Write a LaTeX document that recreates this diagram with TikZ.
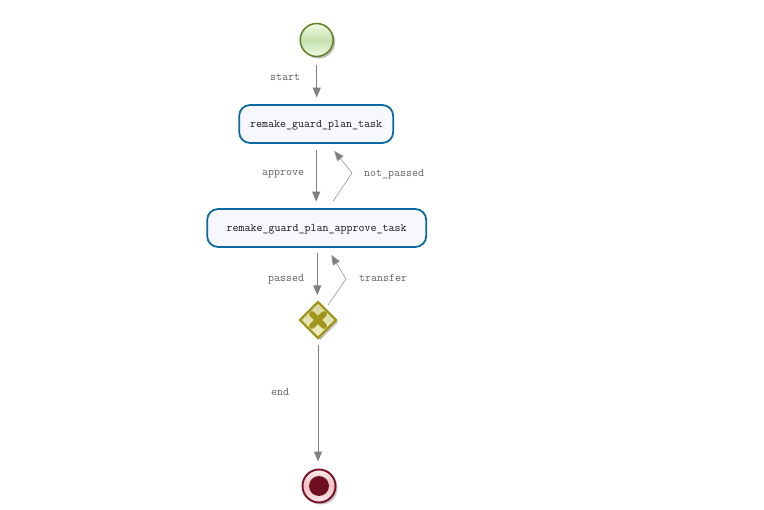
\documentclass[tikz,border=0pt]{standalone}
\usepackage{fontspec}
\usetikzlibrary{shapes.geometric,shadows,arrows.meta,calc}
\definecolor{taskblue}{HTML}{0B6A9E}
\definecolor{taskfill}{HTML}{F6F8FE}
\definecolor{startline}{HTML}{5F7F22}
\definecolor{startmid}{HTML}{C4E0AE}
\definecolor{startedge}{HTML}{EEFBE4}
\definecolor{gateline}{HTML}{A0961C}
\definecolor{gatetop}{HTML}{D6D6A0}
\definecolor{gatebot}{HTML}{F0F0C4}
\definecolor{endline}{HTML}{771226}
\definecolor{enddark}{HTML}{6E1020}
\definecolor{endmid}{HTML}{F2BFC4}
\definecolor{endedge}{HTML}{FBE9EA}
\definecolor{flowgray}{HTML}{808080}
\tikzset{
  softshadow/.style={drop shadow={shadow xshift=2pt,shadow yshift=-2pt,fill=black,opacity=.25}},
  startev/.style={circle,draw=startline,line width=1.5pt,minimum size=33pt,inner sep=0pt,
    top color=startedge,bottom color=startedge,middle color=startmid,softshadow},
  endev/.style={circle,draw=endline,line width=1.9pt,minimum size=33pt,inner sep=0pt,
    top color=endedge,bottom color=endedge,middle color=endmid,softshadow},
  enddot/.style={circle,fill=enddark,minimum size=20pt,inner sep=0pt},
  taskbox/.style={rectangle,rounded corners=11pt,draw=taskblue,line width=1.8pt,fill=taskfill,
    minimum height=38pt,font=\ttfamily\fontsize{11.65pt}{13pt}\selectfont,text=black!90,
    text height=8pt,text depth=1pt},
  gate/.style={diamond,aspect=1,draw=gateline,line width=2.4pt,minimum size=37pt,inner sep=0pt,
    top color=gatetop,bottom color=gatebot,softshadow},
  crossmark/.style={line width=5.8pt,draw=gateline,line cap=round},
  flow/.style={draw=flowgray,line width=1pt,-{Triangle[length=10pt,width=8pt,fill=flowgray]}},
  backflow/.style={draw=flowgray!85,line width=.6pt,-{Triangle[length=10pt,width=8pt,fill=flowgray]}},
  flowlabel/.style={font=\ttfamily\fontsize{11.65pt}{13pt}\selectfont,text=black!62,inner sep=0pt,
    text height=8pt,text depth=1pt},
}
\begin{document}
\begin{tikzpicture}[x=1pt,y=-1pt]
\useasboundingbox (0,0) rectangle (764,510);
\node[startev] (start) at (316.7,40) {};
\node[taskbox,minimum width=154pt] (t1) at (316.2,124) {remake\_guard\_plan\_task};
\node[taskbox,minimum width=219pt] (t2) at (316.7,228) {remake\_guard\_plan\_approve\_task};
\node[gate] (gw) at (318,320) {};
\draw[crossmark] ($(gw.center)+(-6,-6)$) -- ($(gw.center)+(6,6)$);
\draw[crossmark] ($(gw.center)+(-6,6)$) -- ($(gw.center)+(6,-6)$);
\node[endev] (stop) at (319,486) {};
\node[enddot] (stopdot) at (stop.center) {};

\coordinate (loopa) at (352,173);
\coordinate (loopb) at (346,279);
\coordinate (passfrom) at (317.3,247);

\draw[flow,shorten <=7.5pt,shorten >=6.5pt] (start.south) -- (start.south |- t1.north);
\draw[flow,shorten <=6.5pt,shorten >=6.5pt] (t1.south) -- (t1.south |- t2.north);
\draw[flow,shorten <=6.5pt,shorten >=5pt] (passfrom) -- (passfrom |- gw.north);
\draw[flow,shorten <=5pt,shorten >=7pt] (gw.south) -- (gw.south |- stop.north);
\draw[backflow] ($(t2.north)+(16.5,-7)$) -- (loopa) -- ($(t1.south)+(18,7)$);
\draw[backflow] ($(gw.center)+(10,-15)$) -- (loopb) -- ($(t2.south)+(14.5,7)$);

\node[flowlabel] (lstart) at (285,77) {start};
\node[flowlabel] (lapprove) at (283,172) {approve};
\node[flowlabel] (lnot) at (394,173) {not\_passed};
\node[flowlabel] (lpassed) at (286,278) {passed};
\node[flowlabel] (ltransfer) at (383,278) {transfer};
\node[flowlabel] (lend) at (280,392) {end};
\end{tikzpicture}
\end{document}
